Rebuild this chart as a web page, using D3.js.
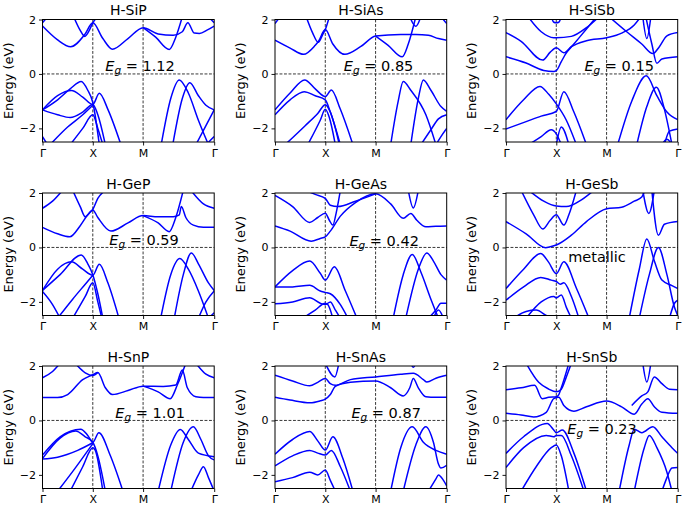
<!DOCTYPE html>
<html>
<head>
<meta charset="utf-8">
<script src="https://cdn.jsdelivr.net/npm/d3@7/dist/d3.min.js"></script>
<style>
  html, body { margin: 0; padding: 0; background: #fff; }
  svg { display: block; }
  text { font-family: "DejaVu Sans", sans-serif; fill: #000; }
</style>
</head>
<body>
<script>
// ---------------- DATA ----------------
const panelTitles = ["H-SiP", "H-SiAs", "H-SiSb", "H-GeP", "H-GeAs", "H-GeSb", "H-SnP", "H-SnAs", "H-SnSb"];
const gapValues = ["1.12", "0.85", "0.15", "0.59", "0.42", null, "1.01", "0.87", "0.23"];
const metallicText = "metallic";
const kTicks = [0, 1, 2, 2 + Math.SQRT2];
const kTickLabels = ["Γ", "X", "M", "Γ"];
const eTicks = [-2, 0, 2];
const eTickLabels = ["−2", "0", "2"];
const yLabelText = "Energy (eV)";

// bands: each band is a list of [k, E(eV)] points, k: Γ=0, X=1, M=2, Γ=3.414
const bandsSiP = [
  [[0,1.76],[0.3,1.25],[0.56,1.0],[0.84,1.45],[1.0,1.88],[1.2,1.3],[1.39,0.91],[1.7,1.3],[2.0,1.70],[2.3,1.47],[2.6,1.42],[2.78,1.55],[2.89,1.88],[3.02,1.5],[3.12,1.49],[3.28,1.62],[3.414,1.76]],
  [[0.62,2.1],[0.75,1.6],[0.84,1.38],[0.93,1.6],[1.0,1.88],[1.1,2.1]],
  [[2.0,1.70],[2.25,1.35],[2.52,0.90],[2.65,1.35],[2.78,2.1]],
  [[0,1.88],[0.1,2.1]],
  [[3.3,2.1],[3.414,1.88]],
  [[0,-1.32],[0.3,-0.8],[0.575,-0.61],[0.8,-0.85],[1.0,-1.12],[1.13,-0.71],[1.3,-1.3],[1.56,-2.6]],
  [[0,-1.32],[0.3,-0.95],[0.55,-0.55],[0.77,-0.28],[0.9,-0.6],[1.0,-1.05],[1.13,-2.6]],
  [[0,-1.32],[0.3,-1.5],[0.55,-1.6],[0.8,-1.4],[1.0,-1.12],[1.1,-1.5],[1.25,-2.6]],
  [[0.15,-2.6],[0.5,-1.95],[0.8,-1.5],[1.0,-1.15]],
  [[0.55,-2.6],[0.8,-2.0],[1.0,-1.5],[1.1,-2.0],[1.2,-2.6]],
  [[0,-2.3],[0.1,-2.6]],
  [[2.36,-2.6],[2.55,-0.9],[2.72,-0.22],[2.9,-0.7],[3.1,-1.7],[3.3,-2.6]],
  [[2.59,-2.6],[2.78,-0.9],[2.93,-0.32],[3.1,-0.8],[3.25,-1.15],[3.414,-1.32]],
  [[3.05,-2.6],[3.25,-1.9],[3.414,-1.32]],
  [[3.25,-2.6],[3.414,-2.3]]
];
const bandsSiAs = [
  [[0,1.24],[0.3,0.95],[0.57,0.72],[0.8,1.05],[0.86,1.18],[1.0,1.63],[1.15,1.1],[1.39,0.72],[1.7,1.0],[2.0,1.39],[2.5,1.45],[2.8,1.45],[3.05,1.42],[3.25,1.3],[3.414,1.24]],
  [[0.62,2.1],[0.75,1.5],[0.86,1.16],[0.95,1.45],[1.0,1.63],[1.08,2.1]],
  [[2.0,1.39],[2.25,1.05],[2.53,0.63],[2.65,1.1],[2.8,2.1]],
  [[2.68,2.1],[2.8,1.75],[2.9,2.1]],
  [[0,1.85],[0.1,2.1]],
  [[3.3,2.1],[3.414,1.85]],
  [[0,-1.32],[0.3,-0.7],[0.59,-0.22],[0.8,-0.55],[1.0,-0.83],[1.12,-0.59],[1.3,-1.3],[1.55,-2.6]],
  [[0,-1.5],[0.3,-0.95],[0.58,-0.65],[0.8,-0.8],[1.0,-0.95],[1.1,-1.4],[1.3,-2.6]],
  [[0.2,-2.6],[0.6,-1.9],[0.85,-1.45],[1.0,-1.13],[1.1,-1.4],[1.28,-2.6]],
  [[0.65,-2.6],[0.9,-1.7],[1.0,-1.3],[1.08,-1.6],[1.2,-2.6]],
  [[2.3,-2.6],[2.45,-1.0],[2.55,-0.28],[2.7,-0.6],[3.0,-1.5],[3.2,-2.6]],
  [[2.7,-2.6],[2.85,-0.9],[2.95,-0.22],[3.1,-0.6],[3.3,-1.2],[3.414,-1.38]],
  [[2.9,-2.6],[3.1,-2.05],[3.25,-1.65],[3.414,-1.5]],
  [[3.2,-2.6],[3.3,-2.3],[3.414,-2.0]]
];
const bandsSiSb = [
  [[0,0.63],[0.4,0.4],[0.75,0.13],[0.95,0.09],[1.0,0.12],[1.1,0.45],[1.18,0.72],[1.35,1.1],[1.6,1.65],[1.8,2.1]],
  [[0,1.52],[0.3,1.2],[0.73,0.51],[0.88,0.8],[1.0,0.96],[1.15,0.78],[1.3,1.0],[1.6,1.22],[2.0,1.33],[2.3,1.5],[2.55,1.8],[2.68,2.1]],
  [[0.44,2.1],[0.7,1.55],[0.95,1.33],[1.0,1.33],[1.3,1.38],[1.6,1.7],[1.85,2.1]],
  [[0.9,2.1],[0.95,1.9],[1.0,1.88],[1.05,1.9],[1.1,2.1]],
  [[2.05,2.1],[2.4,1.55],[2.7,1.1],[2.92,0.75],[3.05,1.0],[3.2,1.4],[3.414,1.52]],
  [[2.78,2.1],[2.9,1.1],[3.0,0.39],[3.1,0.55],[3.414,0.63]],
  [[2.72,2.1],[2.8,1.3],[2.88,2.1]],
  [[0,-1.68],[0.35,-0.95],[0.675,-0.46],[0.85,-0.75],[1.0,-1.1],[1.2,-1.7],[1.4,-2.6]],
  [[0,-2.02],[0.4,-1.75],[0.7,-1.55],[1.0,-1.38],[1.15,-0.65],[1.35,-1.4],[1.6,-2.6]],
  [[0.45,-2.6],[0.7,-2.3],[0.9,-2.05],[1.0,-2.2],[1.1,-2.6]],
  [[1.0,-2.6],[1.1,-1.95],[1.25,-2.6]],
  [[2.22,-2.6],[2.5,-1.0],[2.79,-0.07],[3.0,-0.8],[3.2,-1.4],[3.414,-1.68]],
  [[2.6,-2.6],[2.8,-1.2],[2.99,-0.49],[3.15,-1.3],[3.3,-2.6]],
  [[3.15,-2.6],[3.25,-2.1],[3.414,-2.02]],
  [[3.1,-2.6],[3.2,-2.4],[3.3,-2.6]]
];
const bandsGeP = [
  [[0,0.74],[0.3,0.5],[0.54,0.39],[0.75,0.8],[0.9,1.2],[1.0,1.38],[1.1,1.1],[1.36,0.6],[1.7,0.9],[2.0,1.17],[2.3,1.13],[2.6,1.13],[2.72,1.2],[2.76,1.5],[2.85,1.1],[3.0,0.82],[3.2,0.74],[3.414,0.74]],
  [[2.0,1.17],[2.3,0.9],[2.52,0.58],[2.65,1.1],[2.8,2.1]],
  [[0,1.44],[0.2,1.7],[0.4,2.1]],
  [[0.6,2.1],[0.75,1.5],[0.85,1.13],[0.95,1.3],[1.0,1.4],[1.1,1.8],[1.25,2.1]],
  [[2.95,2.1],[3.2,1.6],[3.414,1.44]],
  [[0,-1.58],[0.3,-0.8],[0.575,-0.53],[0.8,-0.8],[1.0,-1.02],[1.13,-0.62],[1.3,-1.3],[1.52,-2.6]],
  [[0,-1.58],[0.35,-1.0],[0.77,-0.28],[0.9,-0.6],[1.0,-1.0],[1.1,-1.7],[1.2,-2.6]],
  [[0.3,-2.6],[0.6,-1.9],[0.85,-1.35],[1.0,-1.02]],
  [[0.6,-2.6],[0.85,-1.8],[1.0,-1.3],[1.1,-2.0],[1.18,-2.6]],
  [[0,-1.62],[0.2,-2.1],[0.35,-2.6]],
  [[2.35,-2.6],[2.55,-1.0],[2.73,-0.41],[2.9,-0.8],[3.1,-1.6],[3.3,-2.6]],
  [[2.62,-2.6],[2.8,-1.0],[2.96,-0.2],[3.1,-0.6],[3.3,-1.3],[3.414,-1.58]],
  [[3.1,-2.6],[3.25,-2.0],[3.414,-1.6]],
  [[3.3,-2.6],[3.414,-2.4]]
];
const bandsGeAs = [
  [[0,0.79],[0.3,0.6],[0.72,0.23],[0.9,0.33],[1.0,0.39],[1.1,0.6],[1.3,1.15],[1.6,1.65],[2.0,1.97],[2.3,1.6],[2.55,1.07],[2.7,1.25],[2.82,1.0],[3.0,0.76],[3.2,0.78],[3.414,0.79]],
  [[0,1.91],[0.35,1.5],[0.69,0.92],[0.85,1.1],[1.0,1.26],[1.08,1.0],[1.15,0.82],[1.22,1.3],[1.3,2.1]],
  [[0.6,2.1],[0.8,1.95],[1.0,1.8],[1.1,1.55],[1.25,1.5],[1.6,1.7],[2.0,1.97]],
  [[2.65,2.1],[2.75,1.45],[2.85,2.1]],
  [[0,-1.45],[0.35,-0.85],[0.69,-0.5],[0.9,-0.95],[1.0,-1.2],[1.18,-0.71],[1.4,-1.6],[1.63,-2.6]],
  [[0,-1.45],[0.35,-1.45],[0.69,-1.39],[0.9,-1.6],[1.0,-1.65],[1.1,-1.7],[1.3,-2.1],[1.45,-2.6]],
  [[0,-2.07],[0.35,-2.0],[0.69,-1.85],[0.9,-2.05],[1.0,-2.1],[1.1,-2.0],[1.2,-2.3],[1.3,-2.6]],
  [[0.55,-2.6],[0.8,-2.3],[1.0,-2.05],[1.05,-2.1],[1.15,-2.6]],
  [[2.35,-2.6],[2.55,-1.0],[2.73,-0.26],[2.9,-0.9],[3.1,-1.9],[3.25,-2.6]],
  [[2.6,-2.6],[2.85,-0.8],[3.02,-0.2],[3.15,-0.5],[3.3,-1.0],[3.414,-1.2]],
  [[3.05,-2.6],[3.2,-2.3],[3.3,-2.05],[3.414,-2.05]],
  [[3.15,-2.6],[3.25,-2.3],[3.35,-2.6]]
];
const bandsGeSb = [
  [[0,0.95],[0.4,0.5],[0.79,-0.01],[0.95,0.06],[1.0,0.09],[1.3,0.45],[1.6,0.95],[2.0,1.42],[2.3,1.48],[2.55,1.7],[2.7,1.85],[2.76,2.1]],
  [[0.3,2.1],[0.55,1.2],[0.73,0.68],[0.88,1.0],[1.0,1.2],[1.15,0.82],[1.25,1.2],[1.4,2.1]],
  [[0.45,2.1],[0.75,1.7],[1.0,1.52],[1.2,1.5],[1.5,1.75],[1.75,2.1]],
  [[2.72,2.1],[2.84,1.25],[2.95,2.1]],
  [[2.9,2.1],[3.03,0.45],[3.15,0.85],[3.414,0.95]],
  [[0,-1.51],[0.35,-0.8],[0.69,-0.22],[0.85,-0.55],[1.0,-0.96],[1.15,-0.53],[1.4,-1.5],[1.65,-2.6]],
  [[0,-1.94],[0.35,-1.45],[0.69,-1.1],[0.9,-1.2],[1.0,-1.25],[1.08,-1.35],[1.15,-1.3],[1.3,-1.8],[1.45,-2.6]],
  [[0.4,-2.6],[0.7,-2.0],[0.95,-1.8],[1.0,-1.85],[1.1,-1.75],[1.2,-2.2],[1.3,-2.6]],
  [[0.15,-2.6],[0.4,-2.35],[0.6,-2.3],[0.8,-2.5],[0.9,-2.6]],
  [[2.45,-2.6],[2.65,-0.8],[2.8,0.31],[2.95,-0.5],[3.1,-1.2],[3.3,-1.4],[3.414,-1.51]],
  [[2.65,-2.6],[2.85,-1.0],[3.03,0.0],[3.2,-1.0],[3.35,-2.2],[3.414,-2.5]],
  [[3.25,-2.6],[3.35,-2.05],[3.414,-1.94]]
];
const bandsSnP = [
  [[0,0.84],[0.3,0.84],[0.5,0.95],[0.8,1.5],[1.0,1.68],[1.1,1.76],[1.25,1.2],[1.39,0.95],[1.7,1.1],[2.0,1.26],[2.4,1.25],[2.65,1.3],[2.78,1.85],[2.88,1.2],[3.05,0.87],[3.2,0.84],[3.414,0.84]],
  [[2.0,1.26],[2.3,1.05],[2.54,0.8],[2.68,1.3],[2.85,2.1]],
  [[0,1.57],[0.2,1.8],[0.35,2.1]],
  [[3.05,2.1],[3.25,1.7],[3.414,1.57]],
  [[0.65,2.1],[0.85,1.75],[1.0,1.65],[1.1,1.76]],
  [[0,-1.27],[0.35,-0.6],[0.76,-0.32],[0.9,-0.55],[1.0,-0.8],[1.12,-0.45],[1.35,-1.3],[1.6,-2.6]],
  [[0,-1.4],[0.35,-0.65],[0.66,-0.39],[0.85,-0.6],[1.0,-0.8],[1.1,-1.3],[1.25,-2.6]],
  [[0,-1.42],[0.3,-1.35],[0.7,-1.1],[1.0,-0.82]],
  [[0.3,-2.6],[0.65,-1.75],[1.0,-0.85]],
  [[0.55,-2.6],[0.8,-1.7],[1.0,-1.0],[1.05,-1.1],[1.2,-2.6]],
  [[2.3,-2.6],[2.55,-0.9],[2.74,-0.33],[2.9,-0.7],[3.1,-1.2],[3.414,-1.33]],
  [[2.55,-2.6],[2.8,-0.8],[3.0,-0.23],[3.15,-0.7],[3.3,-1.3],[3.414,-1.45]],
  [[2.95,-2.6],[3.1,-2.0],[3.2,-1.7],[3.3,-2.1],[3.414,-2.6]]
];
const bandsSnAs = [
  [[0,0.85],[0.3,0.75],[0.7,0.65],[0.9,0.72],[1.0,0.78],[1.1,0.95],[1.2,1.25],[1.5,1.4],[2.0,1.45],[2.3,1.2],[2.55,0.9],[2.68,1.2],[2.75,1.54],[2.85,1.2],[3.0,0.87],[3.2,0.85],[3.414,0.85]],
  [[0,1.66],[0.35,1.45],[0.69,1.27],[0.85,1.4],[1.0,1.54],[1.1,1.35],[1.2,1.29],[1.5,1.5],[2.0,1.6],[2.5,1.7],[2.75,1.73],[2.95,1.5],[3.02,1.41],[3.2,1.55],[3.414,1.66]],
  [[1.0,2.1],[1.19,1.6],[1.27,2.1]],
  [[2.7,2.1],[2.75,1.95],[2.8,2.1]],
  [[0,-1.24],[0.35,-0.7],[0.69,-0.41],[0.85,-0.75],[1.0,-1.09],[1.15,-0.6],[1.35,-1.4],[1.55,-2.6]],
  [[0,-1.67],[0.35,-1.3],[0.69,-1.1],[0.85,-1.2],[1.0,-1.27],[1.12,-1.1],[1.3,-1.7],[1.5,-2.6]],
  [[0,-2.25],[0.35,-2.1],[0.69,-1.9],[0.85,-2.0],[1.0,-1.82],[1.1,-2.2],[1.2,-2.6]],
  [[2.3,-2.6],[2.5,-1.0],[2.73,-0.23],[2.95,-0.8],[3.2,-1.1],[3.414,-1.24]],
  [[2.55,-2.6],[2.8,-0.9],[3.0,-0.23],[3.15,-0.8],[3.25,-1.6],[3.3,-1.75],[3.414,-1.65]],
  [[3.05,-2.6],[3.2,-2.15],[3.25,-2.0],[3.35,-2.2],[3.414,-2.4]]
];
const bandsSnSb = [
  [[0,0.26],[0.3,0.2],[0.55,0.13],[0.8,0.3],[0.95,0.8],[1.05,0.85],[1.15,0.55],[1.35,0.34],[1.6,0.5],[2.0,0.71],[2.3,0.5],[2.55,0.23],[2.7,0.6],[2.82,0.8],[2.95,0.5],[3.1,0.3],[3.414,0.26]],
  [[0,1.13],[0.3,1.2],[0.57,1.29],[0.72,0.8],[0.85,0.85],[1.0,0.87],[1.05,0.95],[1.1,1.2],[1.25,2.1]],
  [[0.4,2.1],[0.65,1.4],[0.85,1.15],[1.0,1.05],[1.1,1.15],[1.2,1.6],[1.3,2.1]],
  [[2.72,2.1],[2.8,1.41],[2.88,2.1]],
  [[2.5,0.55],[2.7,0.9],[2.82,1.05],[2.95,1.6],[3.1,1.35],[3.25,1.15],[3.414,1.13]],
  [[0,-1.21],[0.35,-0.6],[0.82,-0.11],[0.95,-0.35],[1.0,-0.45],[1.12,-0.35],[1.35,-1.2],[1.6,-2.6]],
  [[0,-1.73],[0.35,-1.0],[0.8,-0.55],[0.95,-0.6],[1.0,-0.55],[1.1,-0.55],[1.3,-1.3],[1.55,-2.6]],
  [[0.3,-2.6],[0.6,-1.7],[0.9,-1.0],[1.0,-0.9],[1.1,-1.3],[1.25,-2.6]],
  [[2.25,-2.6],[2.45,-0.9],[2.55,-0.32],[2.7,-0.45],[2.92,-0.23],[3.1,-0.6],[3.3,-1.0],[3.414,-1.21]],
  [[2.55,-2.6],[2.75,-1.0],[2.85,-0.55],[3.0,-1.0],[3.2,-1.9],[3.3,-2.6]],
  [[3.1,-2.6],[3.2,-2.1],[3.3,-1.75],[3.414,-1.73]]
];
const panelBands = [bandsSiP, bandsSiAs, bandsSiSb, bandsGeP, bandsGeAs, bandsGeSb, bandsSnP, bandsSnAs, bandsSnSb];

// ---------------- LAYOUT ----------------
const colLeft = [42.5, 275, 506];
const rowTop = [19.5, 193, 366];
const panelW = 171.7, panelH = 122.5;
// label anchor (k, E of baseline) per panel
const labelAnchor = [[1.94,0.12],[2.06,0.09],[2.25,0.09],[2.02,0.09],[2.17,0.07],[1.81,-0.53],[2.14,0.1],[2.21,0.1],[1.91,-0.5]];

const svg = d3.select("body").append("svg").attr("width", 685).attr("height", 507);
const defs = svg.append("defs");

panelTitles.forEach((title, i) => {
  const left = colLeft[i % 3], top = rowTop[Math.floor(i / 3)];
  const x = d3.scaleLinear().domain([0, 2 + Math.SQRT2]).range([left, left + panelW]);
  const y = d3.scaleLinear().domain([-2.5, 2]).range([top + panelH, top]);
  const g = svg.append("g");

  defs.append("clipPath").attr("id", "clip" + i)
    .append("rect").attr("x", left).attr("y", top).attr("width", panelW).attr("height", panelH);

  // dashed guides
  const guides = g.append("g").attr("stroke", "#222").attr("stroke-width", 0.9).attr("stroke-dasharray", "2.9,1.6");
  [1, 2].forEach(k => guides.append("line").attr("x1", x(k)).attr("x2", x(k)).attr("y1", top).attr("y2", top + panelH));
  guides.append("line").attr("x1", left).attr("x2", left + panelW).attr("y1", y(0)).attr("y2", y(0));

  // bands
  const line = d3.line().x(d => x(d[0])).y(d => y(d[1])).curve(d3.curveMonotoneX);
  g.append("g").attr("clip-path", "url(#clip" + i + ")")
    .selectAll("path").data(panelBands[i]).join("path")
    .attr("d", line).attr("fill", "none").attr("stroke", "#0000ff").attr("stroke-width", 1.5)
    .attr("stroke-linejoin", "round").attr("stroke-linecap", "butt");

  // axes
  const xAxis = d3.axisBottom(x).tickValues(kTicks).tickFormat((d, j) => kTickLabels[j]).tickSizeOuter(0).tickSize(3.5).tickPadding(3.5);
  const gx = g.append("g").attr("transform", `translate(0,${top + panelH})`).call(xAxis);
  gx.select(".domain").remove();
  gx.selectAll("text").attr("font-size", 11).attr("font-family", "DejaVu Sans");
  gx.selectAll("line").attr("stroke-width", 0.9);

  const yAxis = d3.axisLeft(y).tickValues(eTicks).tickFormat((d, j) => eTickLabels[j]).tickSizeOuter(0).tickSize(3.5).tickPadding(3);
  const gy = g.append("g").attr("transform", `translate(${left},0)`).call(yAxis);
  gy.select(".domain").remove();
  gy.selectAll("text").attr("font-size", 11).attr("font-family", "DejaVu Sans");
  gy.selectAll("line").attr("stroke-width", 0.9);

  // frame
  g.append("rect").attr("x", left).attr("y", top).attr("width", panelW).attr("height", panelH)
    .attr("fill", "none").attr("stroke", "#000").attr("stroke-width", 1);

  // title
  g.append("text").attr("x", left + panelW / 2).attr("y", top - 4.5)
    .attr("text-anchor", "middle").attr("font-size", 14).text(title);

  // y label
  g.append("text").attr("transform", `translate(${left - 30},${top + panelH / 2}) rotate(-90)`)
    .attr("text-anchor", "middle").attr("font-size", 13).text(yLabelText);

  // gap label
  const [lk, le] = labelAnchor[i];
  const t = g.append("text").attr("x", x(lk)).attr("y", y(le)).attr("text-anchor", "middle").attr("font-size", 14.5);
  if (gapValues[i] === null) {
    t.text(metallicText);
  } else {
    t.append("tspan").attr("font-style", "italic").text("E");
    t.append("tspan").attr("font-style", "italic").attr("font-size", 10.5).attr("dy", 3).text("g");
    t.append("tspan").attr("dy", -3).text("\u00a0=\u00a0" + gapValues[i]);
  }
});
</script>
</body>
</html>
